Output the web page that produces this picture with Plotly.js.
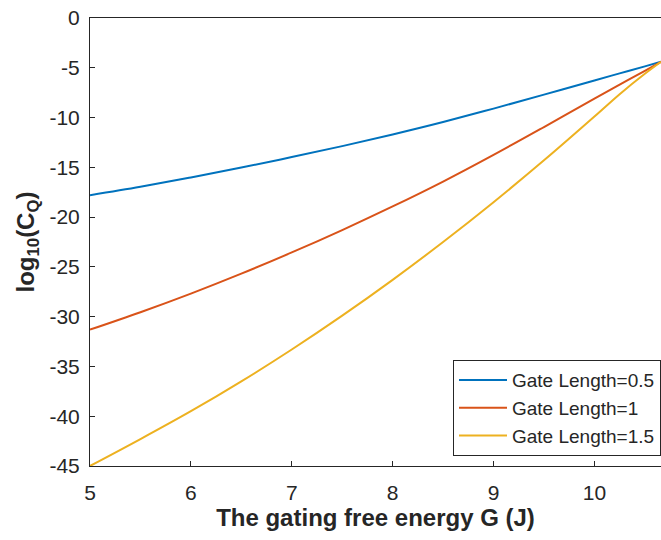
<!DOCTYPE html>
<html><head><meta charset="utf-8">
<script src="https://cdn.plot.ly/plotly-3.0.1.min.js"></script>
<style>html,body{margin:0;padding:0;background:#fff}</style>
</head><body><div id="chart" style="width:661px;height:540px"></div>
<script>
const G = [5, 5.5, 6, 6.5, 7, 7.5, 8, 8.5, 9, 9.5, 10, 10.25, 10.5, 10.66];
const gate05 = [-17.8, -16.95, -16.02, -15.02, -13.97, -12.87, -11.7, -10.45, -9.1, -7.7, -6.27, -5.56, -4.86, -4.4];
const gate1 = [-31.3, -29.55, -27.68, -25.68, -23.55, -21.3, -18.93, -16.43, -13.75, -10.95, -8.1, -6.7, -5.3, -4.4];
const gate15 = [-45, -42.3, -39.5, -36.5, -33.3, -29.9, -26.3, -22.5, -18.5, -14.3, -9.9, -7.65, -5.6, -4.4];
const names = ["Gate Length=0.5", "Gate Length=1", "Gate Length=1.5"];
const colors = ["#0072BD", "#D95319", "#EDB120"];
const series = [gate05, gate1, gate15];
const xTicks = [5, 6, 7, 8, 9, 10];
const yTicks = [0, -5, -10, -15, -20, -25, -30, -35, -40, -45];

const traces = series.map((s, i) => ({
  x: G, y: s, type: "scatter", mode: "lines", name: names[i],
  line: {color: colors[i], width: 2, shape: "spline", smoothing: 1}
}));

const FONT = "Liberation Sans, Arial, sans-serif";
const axisCommon = {
  showgrid: false, zeroline: false, showline: true, mirror: true,
  linecolor: "#262626", linewidth: 1, ticks: "inside", ticklen: 5, tickcolor: "#262626",
  tickfont: {family: FONT, size: 21, color: "#262626"}
};

const layout = {
  width: 661, height: 540,
  margin: {l: 90, r: 0, t: 18, b: 74},
  paper_bgcolor: "#fff", plot_bgcolor: "#fff",
  font: {family: FONT, color: "#262626"},
  xaxis: Object.assign({}, axisCommon, {
    range: [5, 10.66], tickvals: xTicks, ticktext: xTicks.map(String),
    ticklabelstandoff: 8,
    title: {text: "<b>The gating free energy G (J)</b>", font: {size: 24, color: "#262626"}, standoff: 4}
  }),
  yaxis: Object.assign({}, axisCommon, {
    range: [-45, 0], tickvals: yTicks, ticktext: yTicks.map(String),
    ticklabelstandoff: 5,
    title: {text: "<b>log<sub>10</sub>(C<sub>Q</sub>)</b>", font: {size: 24, color: "#262626"}, standoff: 8}
  }),
  showlegend: true,
  legend: {
    x: 1, xanchor: "right", y: 0.022, yanchor: "bottom",
    bgcolor: "#fff", bordercolor: "#262626", borderwidth: 1,
    font: {family: FONT, size: 19, color: "#262626"},
    tracegroupgap: 0, itemwidth: 48
  }
};

Plotly.newPlot("chart", traces, layout, {displayModeBar: false, staticPlot: true});
</script></body></html>
